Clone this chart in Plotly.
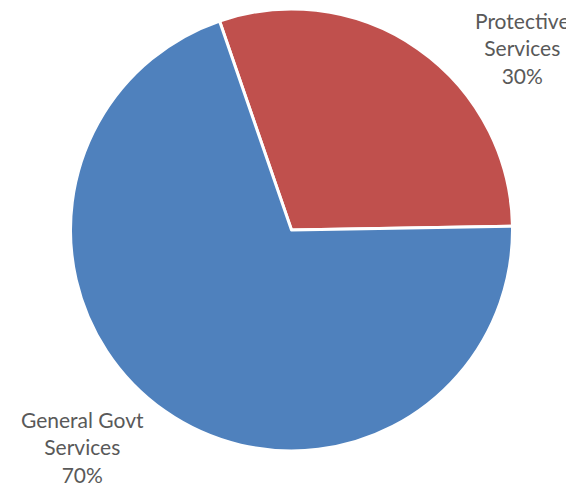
import plotly.graph_objects as go

labels = ["Protective Services", "General Govt Services"]
label_lines = ["Protective<br>Services", "General Govt<br>Services"]
values = [30, 70]
colors = ["#C0504D", "#4F81BD"]

W, H = 574, 488
cx, cy, r = 283.5, 222.0, 221.0

fig = go.Figure(go.Pie(
    labels=labels,
    values=values,
    sort=False,
    direction="clockwise",
    rotation=-19,
    marker=dict(colors=colors, line=dict(color="white", width=3)),
    textinfo="none",
    hoverinfo="label+percent",
    domain=dict(x=[(cx - r) / W, (cx + r) / W], y=[1 - (cy + r) / H, 1 - (cy - r) / H]),
    showlegend=False,
))

total = sum(values)
label_pos = [(514, 40), (74, 439)]
for txt, v, (px, py) in zip(label_lines, values, label_pos):
    fig.add_annotation(
        x=px / W, y=1 - py / H, xref="paper", yref="paper",
        text=f"{txt}<br>{round(100 * v / total)}%",
        showarrow=False, align="center",
        font=dict(family="Lato, Open Sans, sans-serif", size=21, color="#595959"),
        xanchor="center", yanchor="middle",
    )

fig.update_layout(
    width=W, height=H,
    margin=dict(l=0, r=0, t=0, b=0),
    paper_bgcolor="white", plot_bgcolor="white",
)
fig.write_html("out.html")
